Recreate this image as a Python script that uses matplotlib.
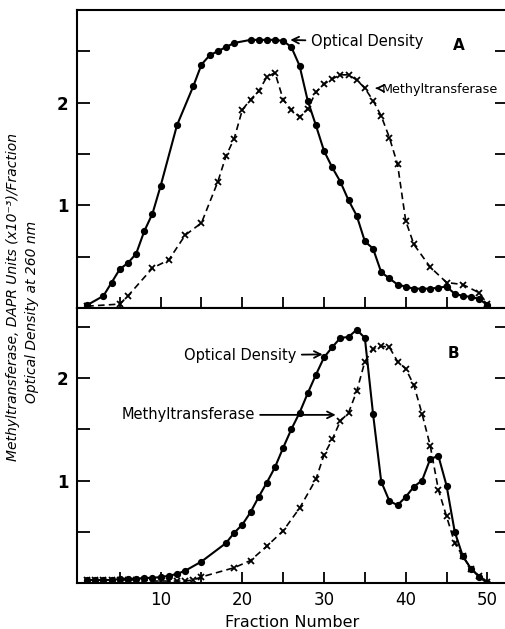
"""
Fraction profiles: optical density and methyltransferase activity (panels A and B)
"""
import numpy as np
import matplotlib
matplotlib.use('Agg')
import matplotlib.pyplot as plt

plt.rcParams['font.family'] = ['DejaVu Sans']

# Panel A - optical density (dots, solid line)
a_od_x = [1, 3, 4, 5, 6, 7, 8, 9, 10, 12, 14, 15, 16, 17, 18, 19, 21, 22, 23, 24,
          25, 26, 27, 28, 29, 30, 31, 32, 33, 34, 35, 36, 37, 38, 39, 40, 41, 42, 43,
          44, 45, 46, 47, 48, 49, 50]
a_od_y = [0.03, 0.12, 0.25, 0.38, 0.44, 0.53, 0.75, 0.92, 1.19, 1.78, 2.16, 2.37, 2.46,
          2.50, 2.54, 2.58, 2.61, 2.61, 2.61, 2.61, 2.60, 2.54, 2.36, 2.02, 1.78, 1.53,
          1.37, 1.23, 1.05, 0.90, 0.65, 0.58, 0.35, 0.29, 0.23, 0.21, 0.19, 0.19, 0.19,
          0.20, 0.21, 0.14, 0.12, 0.11, 0.09, 0.03]

# Panel A - methyltransferase (x, dashed line)
a_mt_x = [1, 5, 6, 9, 11, 13, 15, 17, 18, 19, 20, 21, 22, 23, 24, 25, 26, 27, 28, 29,
          30, 31, 32, 33, 34, 35, 36, 37, 38, 39, 40, 41, 43, 45, 47, 49, 50]
a_mt_y = [0.02, 0.04, 0.12, 0.39, 0.47, 0.71, 0.83, 1.23, 1.48, 1.65, 1.93, 2.03, 2.11,
          2.25, 2.29, 2.03, 1.93, 1.86, 1.94, 2.10, 2.18, 2.23, 2.27, 2.27, 2.22, 2.14,
          2.02, 1.87, 1.66, 1.40, 0.85, 0.62, 0.40, 0.25, 0.23, 0.15, 0.04]

# Panel B - optical density
b_od_x = [1, 2, 3, 4, 5, 6, 7, 8, 9, 10, 11, 12, 13, 15, 18, 19, 20, 21, 22, 23, 24,
          25, 26, 27, 28, 29, 30, 31, 32, 33, 34, 35, 36, 37, 38, 39, 40, 41, 42, 43,
          44, 45, 46, 47, 48, 49, 50]
b_od_y = [0.03, 0.03, 0.03, 0.03, 0.04, 0.04, 0.04, 0.05, 0.05, 0.06, 0.07, 0.09, 0.12,
          0.21, 0.39, 0.49, 0.57, 0.69, 0.84, 0.98, 1.13, 1.32, 1.50, 1.66, 1.85, 2.03,
          2.20, 2.30, 2.39, 2.40, 2.47, 2.39, 1.65, 0.99, 0.80, 0.76, 0.84, 0.94, 1.00,
          1.21, 1.24, 0.95, 0.50, 0.26, 0.14, 0.06, 0.00]

# Panel B - methyltransferase
b_mt_x = [1, 2, 3, 4, 5, 6, 7, 8, 9, 10, 11, 12, 13, 14, 15, 19, 21, 23, 25, 27, 29,
          30, 31, 32, 33, 34, 35, 36, 37, 38, 39, 40, 41, 42, 43, 44, 45, 46, 47, 48,
          49, 50]
b_mt_y = [0.03, 0.03, 0.03, 0.03, 0.03, 0.03, 0.03, 0.03, 0.02, 0.02, 0.02, 0.02, 0.02,
          0.03, 0.06, 0.15, 0.22, 0.36, 0.51, 0.73, 1.01, 1.25, 1.40, 1.58, 1.66, 1.87,
          2.16, 2.28, 2.31, 2.30, 2.16, 2.09, 1.93, 1.65, 1.34, 0.91, 0.65, 0.39, 0.26,
          0.14, 0.07, 0.01]

x_ticks = [5, 10, 15, 20, 25, 30, 35, 40, 45, 50]
x_ticklabels = ['', '10', '', '20', '', '30', '', '40', '', '50']
y_ticks = [0.5, 1, 1.5, 2, 2.5]
y_ticklabels = ['', '1', '', '2', '']

fig = plt.figure(figsize=(5.06, 6.29), dpi=100)
axA = fig.add_axes([0.152, 0.510, 0.85, 0.474])
axB = fig.add_axes([0.152, 0.073, 0.85, 0.437])


def style_axis(ax, ymax, xt, xl):
    ax.set_xlim(-0.25, 52.4)
    ax.set_ylim(0, ymax)
    ax.set_xticks(xt)
    ax.set_xticklabels(xl, fontsize=12)
    ax.set_yticks(y_ticks)
    ax.set_yticklabels(y_ticklabels, fontsize=12, fontweight='bold')
    ax.tick_params(axis='x', direction='in', length=8, width=1.3, pad=6)
    ax.tick_params(axis='y', direction='in', length=9, width=1.3, pad=6,
                   left=True, right=True)
    for s in ax.spines.values():
        s.set_linewidth(1.5)


def draw(ax, od_x, od_y, mt_x, mt_y):
    ax.plot(od_x, od_y, color='black', lw=1.5, marker='o', ms=4.2)
    ax.plot(mt_x, mt_y, color='black', lw=1.2, ls=(0, (4, 2.5)), marker='x',
            ms=5, mew=1.3)


draw(axA, a_od_x, a_od_y, a_mt_x, a_mt_y)
draw(axB, b_od_x, b_od_y, b_mt_x, b_mt_y)
style_axis(axA, 2.9, x_ticks[:-1], [''] * 9)
style_axis(axB, 2.68, x_ticks, x_ticklabels)

arrow = dict(arrowstyle='->', color='black', lw=1.3, shrinkA=2, shrinkB=1,
             mutation_scale=12)

# Panel A labels
axA.annotate('Optical Density', xy=(25.7, 2.61), xytext=(28.4, 2.59),
             ha='left', va='center', fontsize=10.5, arrowprops=arrow)
axA.annotate('Methyltransferase', xy=(36.3, 2.14), xytext=(37.1, 2.13),
             ha='left', va='center', fontsize=9.2, arrowprops=arrow)
axA.text(46.5, 2.56, 'A', fontsize=11, fontweight='bold', ha='center', va='center')

# Panel B labels
axB.annotate('Optical Density', xy=(30.0, 2.23), xytext=(26.6, 2.22),
             ha='right', va='center', fontsize=10.5, arrowprops=arrow)
axB.annotate('Methyltransferase', xy=(31.6, 1.64), xytext=(21.5, 1.64),
             ha='right', va='center', fontsize=10.5, arrowprops=arrow)
axB.text(45.9, 2.24, 'B', fontsize=11, fontweight='bold', ha='center', va='center')

axB.set_xlabel('Fraction Number', fontsize=11.5, labelpad=4)

# shared y label, two lines
fig.text(0.026, 0.528, 'Methyltransferase, DAPR Units (x10⁻³)/Fraction',
         rotation=90, ha='center', va='center', fontsize=10, style='italic')
fig.text(0.064, 0.504, 'Optical Density at 260 nm',
         rotation=90, ha='center', va='center', fontsize=10, style='italic')

fig.savefig('out.png', dpi=100)
